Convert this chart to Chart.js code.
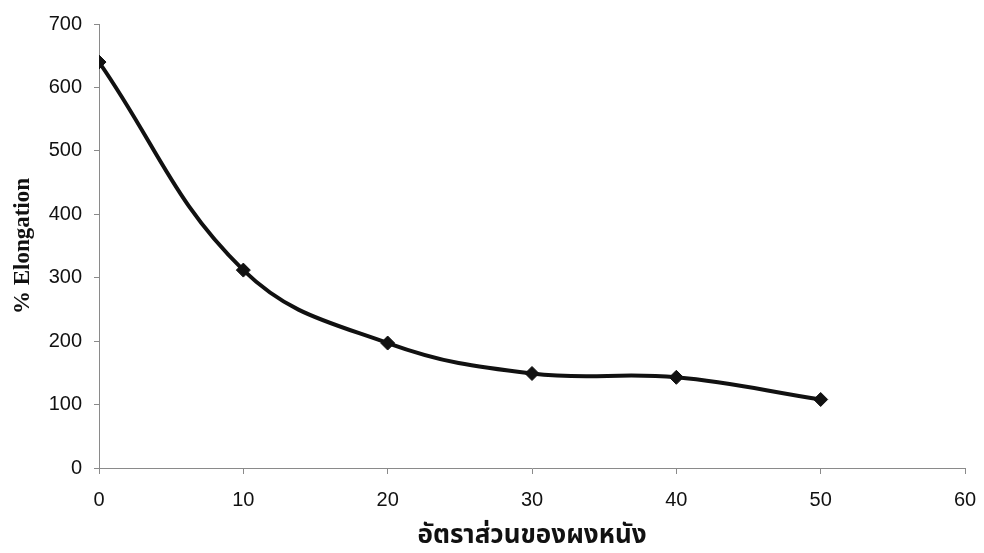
<!DOCTYPE html>
<html>
<head>
<meta charset="utf-8">
<script src="https://cdn.jsdelivr.net/npm/chart.js@4"></script>
<style>
  html, body { margin: 0; padding: 0; background: #fff; }
  #wrap { width: 984px; height: 553px; }
</style>
</head>
<body>
<div id="wrap"><canvas id="myChart" width="984" height="553"></canvas></div>
<script>
const ctx = document.getElementById('myChart').getContext('2d');

// ratio of leather powder (x) and % elongation (y)
const ratios = [0, 10, 20, 30, 40, 50];
const elongation = [640, 312, 197, 149, 143, 108];

const xTitle = 'อัตราส่วนของผงหนัง';
const yTitle = '% Elongation';

const axisGray = '#8a8a8a';
const tickFont = { family: '"Liberation Sans", Arial, sans-serif', size: 20 };

const data = {
	datasets: [{
		data: ratios.map((x, i) => ({ x: x, y: elongation[i] })),
		borderColor: '#111',
		borderWidth: 4,
		tension: 0.4,
		pointStyle: 'rectRot',
		pointRadius: 7,
		pointBackgroundColor: '#111',
		pointBorderColor: '#111',
		pointBorderWidth: 1,
		fill: false
	}]
};

const config = {
	type: 'line',
	data: data,
	options: {
		responsive: false,
		animation: false,
		layout: { padding: { top: 20, right: 19, left: 0, bottom: 0 } },
		plugins: {
			legend: { display: false },
			tooltip: { enabled: false }
		},
		scales: {
			x: {
				type: 'linear',
				min: 0,
				max: 60,
				afterFit: (scale) => {
					scale.height = 85;
					scale.paddingLeft = 0;
					scale.paddingRight = 0;
				},
				border: { color: axisGray, width: 1 },
				grid: {
					drawOnChartArea: false,
					drawTicks: true,
					tickLength: 6,
					color: axisGray
				},
				ticks: {
					stepSize: 10,
					padding: 14,
					color: '#111',
					font: tickFont
				},
				title: {
					display: true,
					text: xTitle,
					color: '#111',
					font: { family: '"Noto Sans Thai", "Noto Serif Thai", Loma, Garuda, "Noto Sans", sans-serif', size: 26, weight: 'bold' },
					padding: { top: 0, bottom: 0 }
				}
			},
			y: {
				min: 0,
				max: 700,
				afterFit: (scale) => { scale.width = 99; },
				border: { color: axisGray, width: 1 },
				grid: {
					drawOnChartArea: false,
					drawTicks: true,
					tickLength: 5,
					color: axisGray
				},
				ticks: {
					stepSize: 100,
					padding: 12,
					color: '#111',
					font: tickFont
				},
				title: {
					display: true,
					text: yTitle,
					color: '#111',
					font: { family: '"Liberation Serif", "Times New Roman", serif', size: 23, weight: 'bold' },
					padding: { top: 9, bottom: 0 }
				}
			}
		}
	}
};

const myChart = new Chart(ctx, config);
</script>
</body>
</html>
